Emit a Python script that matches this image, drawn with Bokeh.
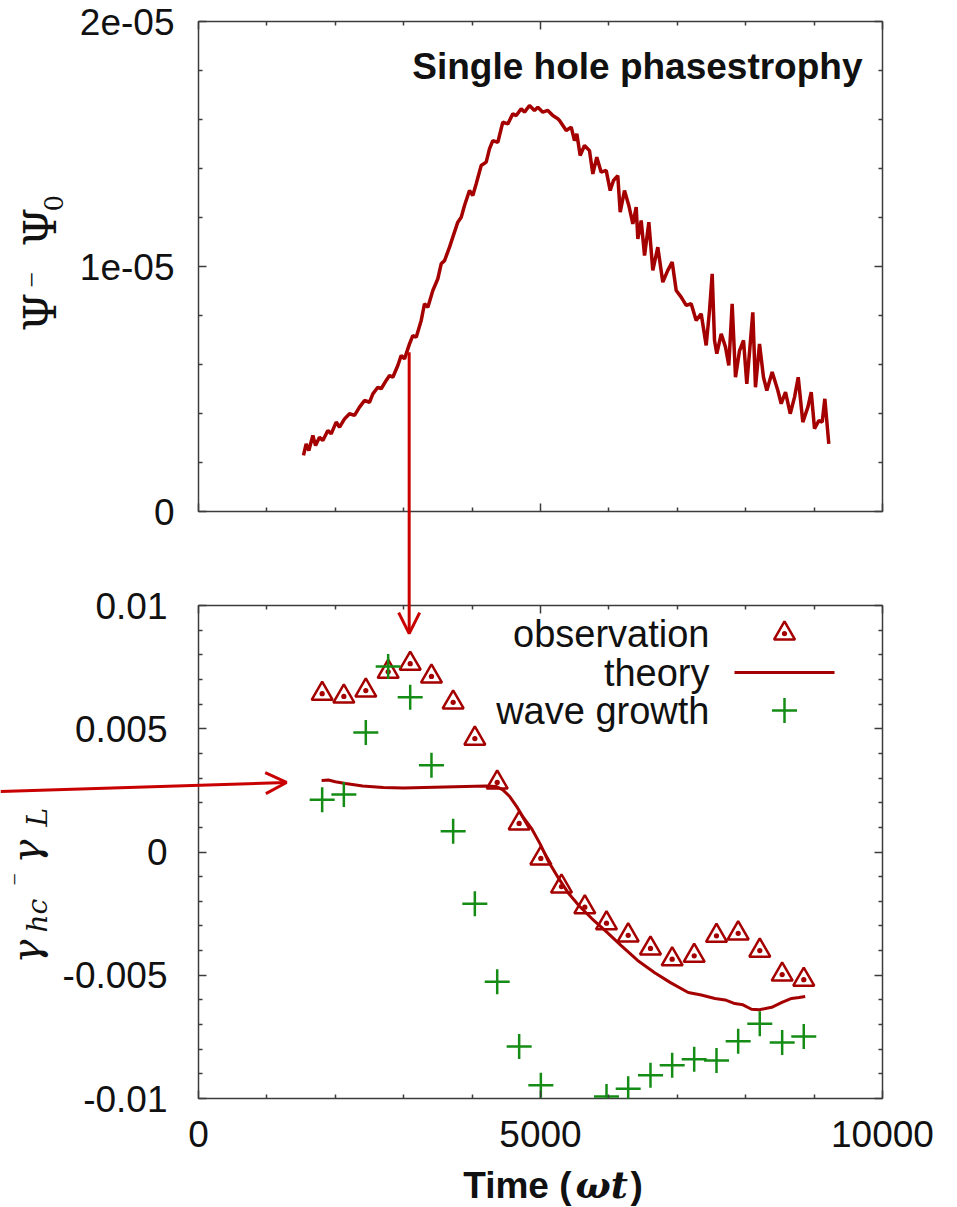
import math
from bokeh.plotting import figure
from bokeh.models import (Range1d, LinearAxis, FixedTicker, Label, Arrow, OpenHead)
from bokeh.layouts import column
from bokeh.embed import file_html
from bokeh.resources import INLINE

# ---------------- data ----------------
psi_time = [1535, 1574, 1613, 1672, 1711, 1769, 1818, 1891, 1940, 2013,
            2062, 2135, 2208, 2281, 2354, 2427, 2500, 2549, 2622, 2671,
            2744, 2793, 2841, 2914, 2963, 3012, 3085, 3133, 3183, 3256,
            3304, 3353, 3426, 3499, 3548, 3597, 3670, 3718, 3791, 3841,
            3889, 3962, 4010, 4060, 4133, 4206, 4254, 4303, 4376, 4449,
            4522, 4595, 4645, 4718, 4766, 4839, 4912, 4961, 5034, 5107,
            5180, 5253,
            5278, 5376, 5449, 5497, 5531, 5580, 5643, 5716, 5765, 5823,
            5887, 5960, 6019, 6067, 6130, 6165, 6228, 6291, 6350, 6399,
            6423, 6472, 6521, 6584, 6642, 6715, 6788, 6861, 6925, 6984,
            7057, 7130, 7203, 7276, 7349, 7422, 7471, 7510, 7544, 7578,
            7642, 7705, 7753, 7802, 7851, 7910, 7968, 8016, 8066, 8104,
            8143, 8202, 8260, 8309, 8387, 8470, 8519, 8582, 8651, 8714,
            8768, 8835, 8909, 8958, 9006, 9070, 9118, 9157, 9215]
# phasestrophy in units of 1e-6
psi_micro = [2.29, 2.76, 2.49, 3.10, 2.69, 3.03, 2.90, 3.31, 3.17, 3.65,
             3.44, 3.78, 3.99, 3.92, 4.26, 4.53, 4.46, 4.80, 5.07, 5.01,
             5.35, 5.55, 5.48, 5.96, 6.37, 6.23, 6.84, 7.18, 7.11, 7.80,
             8.48, 8.34, 9.02, 9.50, 10.11, 10.24, 10.79, 11.20, 11.81, 12.01,
             12.49, 13.10, 12.90, 13.38, 14.12, 14.26, 14.80, 15.14, 15.07, 15.89,
             15.82, 16.23, 16.16, 16.44, 16.30, 16.57, 16.37, 16.50, 16.30, 16.37,
             16.16, 16.03,
             15.96, 15.55, 15.69, 15.14, 15.42, 14.53, 14.94, 14.73, 13.78, 14.46,
             13.85, 13.92, 13.10, 13.51, 13.71, 12.22, 13.10, 12.49, 11.74, 12.42,
             11.13, 11.88, 10.45, 11.81, 9.84, 10.79, 9.36, 9.84, 10.18, 9.02,
             8.75, 8.41, 8.48, 7.80, 8.07, 6.78, 8.20, 9.70, 6.98, 6.44,
             7.25, 6.71, 5.96, 8.48, 5.48, 6.57, 6.98, 5.21, 6.84, 8.13,
             5.07, 6.84, 5.48, 4.94, 5.69, 4.94, 4.40, 4.87, 3.99, 4.67,
             5.48, 3.65, 4.26, 4.87, 3.38, 3.71, 3.65, 4.60, 2.76]

obs_time = [1808, 2125, 2446, 2773, 3095, 3406, 3723, 4040, 4367, 4688, 5005, 5307,
            5648, 5965, 6282, 6608, 6925, 7247, 7573, 7890, 8206, 8533, 8849]
obs_value = [0.00642, 0.00631, 0.00655, 0.00731, 0.00764, 0.00712, 0.00607, 0.00460,
             0.00282, 0.00116, -0.00026, -0.00140, -0.00224, -0.00289, -0.00338,
             -0.00391, -0.00435, -0.00421, -0.00340, -0.00330, -0.00400, -0.00497,
             -0.00518]

theory_time = [1800, 1900, 2000, 2150, 2400, 2700, 3000, 3300, 3600, 3900, 4200,
               4350, 4450, 4550, 4650, 4750, 4870, 5000, 5110, 5250, 5400, 5570,
               5750, 5950, 6180, 6420, 6670, 6900, 7160, 7350, 7550, 7700, 7840,
               7960, 8085, 8200, 8380, 8530, 8670, 8780, 8870]
theory_value = [0.00290, 0.00292, 0.00285, 0.00278, 0.00268, 0.00262, 0.00260,
                0.00262, 0.00264, 0.00266, 0.00268, 0.00266, 0.00252, 0.00225,
                0.00185, 0.00140, 0.00095, 0.00030, -0.00035, -0.00100, -0.00164,
                -0.00220, -0.00270, -0.00320, -0.00380, -0.00440, -0.00490,
                -0.00530, -0.00570, -0.00580, -0.00594, -0.00600, -0.00615,
                -0.00620, -0.00638, -0.00640, -0.00630, -0.00610, -0.00594,
                -0.00590, -0.00586]

wave_time = [1808, 2125, 2446, 2773, 3095, 3406, 3723, 4040, 4367, 4688, 5005,
             5965, 6282, 6608, 6925, 7247, 7573, 7890, 8206, 8533, 8849]
wave_value = [0.00212, 0.00233, 0.00485, 0.00753, 0.00628, 0.00352, 0.00084,
              -0.00210, -0.00526, -0.00789, -0.00946, -0.00992, -0.00960,
              -0.00906, -0.00865, -0.00841, -0.00846, -0.00768, -0.00697,
              -0.00773, -0.00748]

legend_labels = ["observation", "theory", "wave growth"]

# arrows (anchors in data units)
arrow_v_time = 3080          # vertical arrow: from the Psi curve ...
arrow_v_psi = 6.5e-6         # ... (top panel value) ...
arrow_v_gamma_tip = 0.00886  # ... down to this growth-rate level
arrow_h_gamma_start = 0.00245  # horizontal arrow enters from the page edge
arrow_h_time_tip = 1287
arrow_h_gamma_tip = 0.00282

# ticks
x_major = [0, 5000, 10000]
x_minor = [1000, 2000, 3000, 4000, 6000, 7000, 8000, 9000]
y1_major = [0, 1e-05, 2e-05]
y1_labels = ["0", "1e-05", "2e-05"]
y1_minor = [2e-06, 4e-06, 6e-06, 8e-06, 1.2e-05, 1.4e-05, 1.6e-05, 1.8e-05]
y2_major = [-0.01, -0.005, 0, 0.005, 0.01]
y2_labels = ["-0.01", "-0.005", "0", "0.005", "0.01"]
y2_minor = [-0.009, -0.008, -0.007, -0.006, -0.004, -0.003, -0.002, -0.001,
            0.001, 0.002, 0.003, 0.004, 0.006, 0.007, 0.008, 0.009]

psi_value = [v * 1e-6 for v in psi_micro]

# ---------------- layout constants (page pixels) ----------------
W, H = 957, 1207
H1 = 558                     # height of the top figure
FL, FR = 198, 882            # frame left / right (both panels)
TOP_T, TOP_B = 21, 511       # top frame
BOT_T, BOT_B = 605, 1098     # bottom frame
X0, X1 = 0, 10000
Y1A, Y1B = 0, 2e-05
Y2A, Y2B = -0.01, 0.01
KEY_PX, KEY_LINE_PX = 784, (734, 834)   # legend key column
LEG_TEXT_PX = 709                       # right edge of legend texts
LEG_ROW_PY = [633, 672, 710]
BASE_SHIFT = 0.33            # svg text anchor sits this many em above baseline

C_DARK = "#a50000"
C_ARROW = "#c80000"
C_GREEN = "#158c15"
FRAME = "#3c3c3c"
SANS = "Liberation Sans"
SERIF = "DejaVu Serif"
TICK_SIZE = "37px"

t_per_px = (X1 - X0) / (FR - FL)
g_per_px = (Y2B - Y2A) / (BOT_B - BOT_T)
p_per_px = (Y1B - Y1A) / (TOP_B - TOP_T)


def px_to_t(px):
    return X0 + (px - FL) * t_per_px


def py_to_g(py):
    return Y2B - (py - BOT_T) * g_per_px


def psi_to_gamma(v):
    return py_to_g(TOP_B - (v - Y1A) / p_per_px)


def base_fig(height, borders, yr):
    l, r, t, b = borders
    p = figure(width=W, height=height, x_range=Range1d(X0, X1), y_range=yr,
               output_backend="svg", toolbar_location=None,
               x_axis_location=None, y_axis_location=None,
               min_border_left=l, min_border_right=r, min_border_top=t,
               min_border_bottom=b)
    p.xgrid.visible = False
    p.ygrid.visible = False
    p.outline_line_color = FRAME
    p.outline_line_width = 1.5
    p.background_fill_color = "white"
    p.border_fill_color = "white"
    return p


def add_axis(p, side, ticker, labels=None, standoff=20):
    ax = LinearAxis(ticker=ticker)
    ax.axis_line_color = None
    ax.major_tick_in = 8
    ax.major_tick_out = 0
    ax.minor_tick_in = 4
    ax.minor_tick_out = 0
    ax.major_tick_line_color = FRAME
    ax.minor_tick_line_color = FRAME
    ax.major_tick_line_width = 1.5
    ax.minor_tick_line_width = 1.5
    if labels is None:
        ax.major_label_text_font_size = "0px"
        ax.major_label_text_color = None
        ax.major_label_standoff = 0
    else:
        ax.major_label_text_font = SANS
        ax.major_label_text_font_size = TICK_SIZE
        ax.major_label_text_color = "#111111"
        ax.major_label_standoff = standoff
        if labels:
            ax.major_label_overrides = labels
    p.add_layout(ax, side)
    return ax


def text(p, s, x, y, size, font=SERIF, style="normal", angle=0.0,
         align="left", baseline="alphabetic", color="#111111"):
    p.add_layout(Label(x=x, y=y, x_units="screen", y_units="screen", text=s,
                       text_font=font, text_font_size=f"{size}px",
                       text_font_style=style, angle=angle, text_align=align,
                       text_baseline=baseline, text_color=color))


def htext(p, s, x, base_y_up, size, **kw):
    """horizontal text whose baseline sits at base_y_up (screen, y up)"""
    text(p, s, x, base_y_up + BASE_SHIFT * size, size, **kw)


def vtext(p, s, base_x, y, size, **kw):
    """text rotated 90 deg whose baseline sits at page x = base_x"""
    text(p, s, base_x - BASE_SHIFT * size, y, size, angle=math.pi / 2, **kw)


xt = FixedTicker(ticks=x_major, minor_ticks=x_minor)
yt1 = FixedTicker(ticks=y1_major, minor_ticks=y1_minor)
yt2 = FixedTicker(ticks=y2_major, minor_ticks=y2_minor)

# ---------------- top panel ----------------
p1 = base_fig(H1, (FL, W - FR, TOP_T, H1 - TOP_B), Range1d(Y1A, Y1B))
add_axis(p1, "below", xt)
add_axis(p1, "above", xt)
add_axis(p1, "left", yt1, labels=dict(zip(y1_major, y1_labels)), standoff=24)
add_axis(p1, "right", yt1)

p1.line(psi_time, psi_value, line_color=C_DARK, line_width=3.5)
htext(p1, "Single hole phasestrophy", 862 - FL, TOP_B - 78, 37, font=SANS,
      style="bold", align="right")

# ---------------- bottom panel ----------------
p2 = base_fig(H - H1, (FL, W - FR, BOT_T - H1, H - BOT_B), Range1d(Y2A, Y2B))
add_axis(p2, "below", xt, labels={}, standoff=22)
add_axis(p2, "above", xt)
add_axis(p2, "left", yt2, labels=dict(zip(y2_major, y2_labels)), standoff=31)
add_axis(p2, "right", yt2)

tri = dict(marker="triangle_dot", size=21, line_color=C_DARK, fill_color=None,
           line_width=2.5)
crs = dict(marker="cross", size=25, line_color=C_GREEN, line_width=2.5)
p2.line(theory_time, theory_value, line_color=C_DARK, line_width=3)
p2.scatter(obs_time, obs_value, **tri)
p2.scatter(wave_time, wave_value, **crs)

# key (gnuplot style: right-aligned text, sample to its right)
key_y = [py_to_g(py) for py in LEG_ROW_PY]
p2.scatter([px_to_t(KEY_PX)], [key_y[0]], **tri)
p2.line([px_to_t(KEY_LINE_PX[0]), px_to_t(KEY_LINE_PX[1])], [key_y[1], key_y[1]],
        line_color=C_DARK, line_width=3)
p2.scatter([px_to_t(KEY_PX)], [key_y[2]], **crs)
for name, py in zip(legend_labels, LEG_ROW_PY):
    text(p2, name, LEG_TEXT_PX - FL, BOT_B - py, 38, font=SANS, align="right",
         baseline="middle")

# ---------------- transparent overlay: labels & arrows outside the frames ----
ov = figure(width=W, height=H, output_backend="svg", toolbar_location=None,
            x_range=Range1d(px_to_t(0), px_to_t(W)),
            y_range=Range1d(py_to_g(H), py_to_g(0)),
            x_axis_location=None, y_axis_location=None,
            min_border=0, min_border_left=0, min_border_right=0,
            min_border_top=0, min_border_bottom=0,
            styles={"position": "absolute", "left": "0px", "top": "0px",
                    "z-index": "10"})
if "frame_align" in ov.properties():
    ov.frame_align = False
ov.grid.visible = False
ov.outline_line_color = None
ov.background_fill_alpha = 0
ov.border_fill_alpha = 0

head = dict(size=21, line_color=C_ARROW, line_width=3)
ov.add_layout(Arrow(end=OpenHead(**head), x_start=arrow_v_time,
                    y_start=psi_to_gamma(arrow_v_psi), x_end=arrow_v_time,
                    y_end=arrow_v_gamma_tip, line_color=C_ARROW, line_width=3))
ov.add_layout(Arrow(end=OpenHead(**head), x_start=px_to_t(0),
                    y_start=arrow_h_gamma_start, x_end=arrow_h_time_tip,
                    y_end=arrow_h_gamma_tip, line_color=C_ARROW, line_width=3))

# Psi - Psi_0  (rotated; y = distance of text start from the page bottom)
vtext(ov, "Ψ", 55, H - 331, 44)
vtext(ov, "−", 41, H - 287, 28, font="Liberation Serif")
vtext(ov, "Ψ", 55, H - 246, 44)
vtext(ov, "0", 62, H - 211, 26)
# gamma_hc - gamma_L
vtext(ov, "γ", 39, H - 963, 40, style="italic")
vtext(ov, "hc", 46, H - 932, 28, style="italic")
vtext(ov, "−", 22, H - 885, 22, font="Liberation Serif")
vtext(ov, "γ", 39, H - 863, 40, style="italic")
vtext(ov, "L", 46, H - 826, 28, style="italic")
# x axis title: Time (ωt)
htext(ov, "Time (", 571, H - 1197, 37, font=SANS, style="bold", align="right")
htext(ov, "ωt", 575, H - 1197, 37, style="bold italic")
htext(ov, ")", 630, H - 1197, 37, font=SANS, style="bold")

layout = column(column(p1, p2, spacing=0), ov, spacing=0)
open("out.html", "w").write(file_html(layout, INLINE))
